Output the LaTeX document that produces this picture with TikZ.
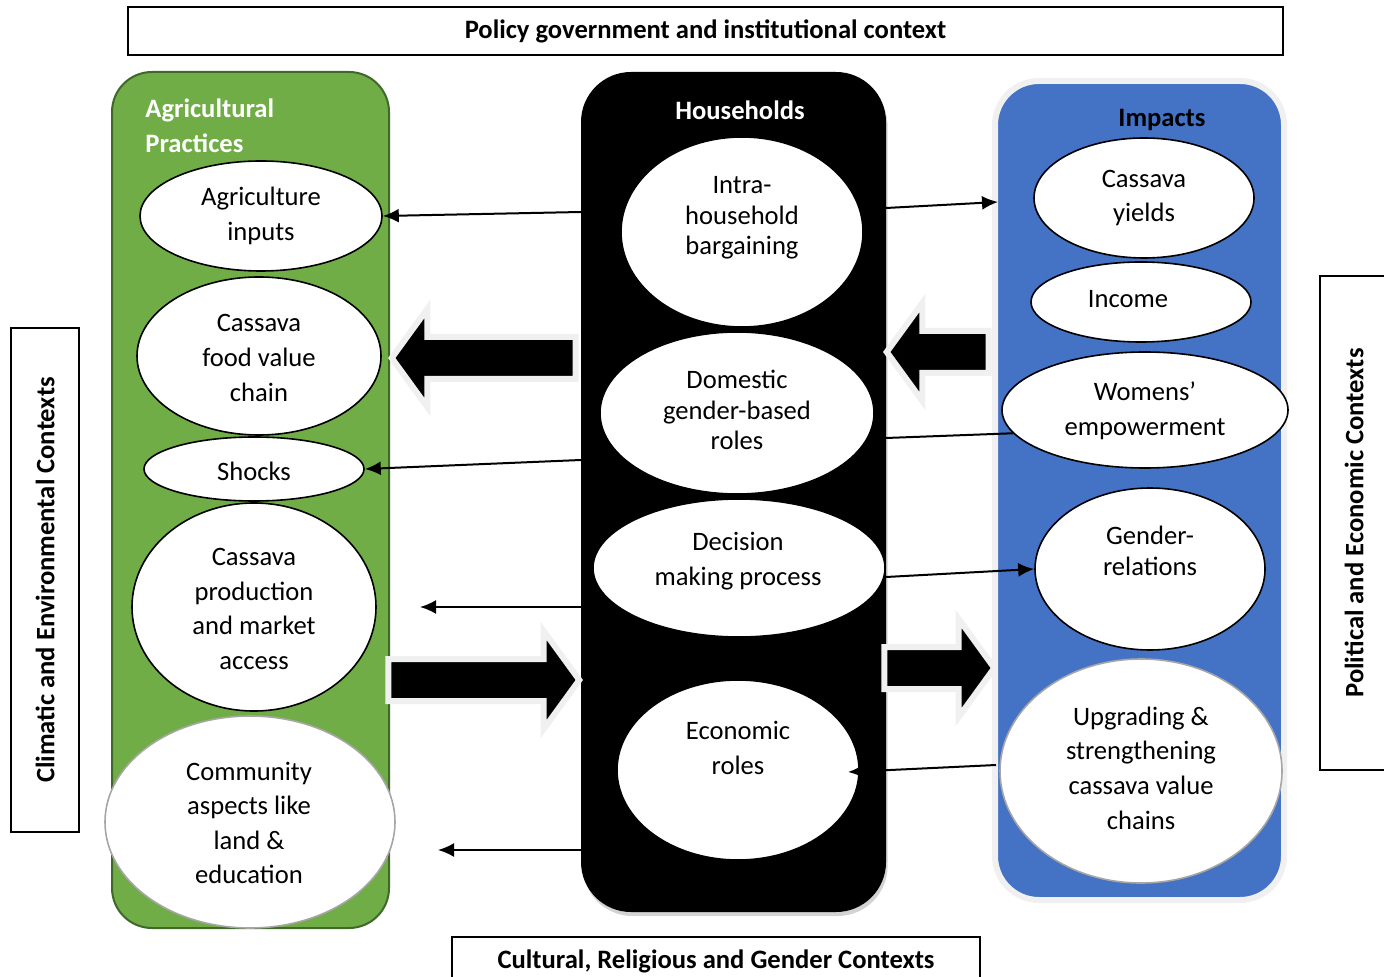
\documentclass[tikz,border=0pt]{standalone}
\usepackage{fontspec}
\setmainfont{Carlito}
\usetikzlibrary{shapes.geometric,shapes.arrows,arrows.meta,shadows}

\definecolor{farmgreen}{HTML}{70AD47}
\definecolor{farmedge}{HTML}{41682B}
\definecolor{impactblue}{HTML}{4472C4}

\tikzset{
  ctx/.style={draw, line width=1pt, font=\bfseries, inner sep=0pt},
  panel/.style={inner sep=0pt},
  oval/.style={ellipse, draw, fill=white, line width=0.8pt, inner sep=0pt},
  txt/.style={align=center, inner sep=0pt},
  tight/.style={txt, font=\fontsize{13.3}{15.2}\selectfont},
  link/.style={-{Latex[length=8pt,width=7pt]}, line width=1pt},
  bigarrow/.style={single arrow, fill=black, draw=gray!12, line width=3pt,
    inner xsep=0pt, inner ysep=9pt, single arrow head extend=14pt,
    single arrow tip angle=108, anchor=tip}
}

\begin{document}
\fontsize{13.3}{17.3}\selectfont
\begin{tikzpicture}[x=0.5pt, y=-0.5pt]
  \useasboundingbox (0,0) rectangle (1384,977);
  \clip (0,0) rectangle (1384,977);

  % contexts round the frame
  \node[ctx, minimum width=577.5pt, minimum height=24pt] (policy) at (705.5,31)
    {Policy government and institutional context};
  \node[ctx, minimum width=264pt, minimum height=24pt] (culture) at (716,961)
    {Cultural, Religious and Gender Contexts};
  \node[ctx, rotate=90, minimum width=252pt, minimum height=34pt] (climate) at (45,580)
    {Climatic and Environmental Contexts};
  \node[ctx, rotate=90, minimum width=247pt, minimum height=34pt] (political) at (1354,523)
    {Political and Economic Contexts};

  % the three columns
  \node[panel, fill=farmgreen, draw=farmedge, line width=1pt, rounded corners=20pt,
    minimum width=138.5pt, minimum height=428pt] (farm) at (250.5,500) {};
  \node[panel, fill=black, rounded corners=25pt, minimum width=152.5pt, minimum height=420pt,
    drop shadow={shadow xshift=0.8pt, shadow yshift=-2pt, opacity=.35}] (hh) at (733.5,492) {};
  \node[panel, fill=impactblue, draw=gray!12, line width=3pt, rounded corners=22pt,
    minimum width=144.5pt, minimum height=409.5pt] (impact) at (1139.5,490.5) {};

  \node[txt, anchor=west, align=left, text=white, font=\bfseries] (farmT) at (145,126)
    {Agricultural\\Practices};
  \node[txt, text=white, font=\bfseries] (hhT) at (740,110) {Households};
  \node[txt, font=\bfseries] (impactT) at (1162,120) {Impacts};

  % agricultural practices
  \node[oval, minimum width=121pt, minimum height=55pt] (inputs) at (261,216) {};
  \node[oval, minimum width=122pt, minimum height=79pt] (foodchain) at (259,356) {};
  \node[oval, minimum width=110pt, minimum height=32pt] (shocks) at (254,469) {};
  \node[oval, minimum width=122pt, minimum height=104pt] (production) at (254,607) {};
  \node[oval, draw=gray!70, minimum width=145pt, minimum height=106pt] (community) at (250,822) {};
  \node[txt] (inputsT) at (261,216) {Agriculture\\inputs};
  \node[txt] (foodchainT) at (259,358) {Cassava\\food value\\chain};
  \node[txt] (shocksT) at (254,471) {Shocks};
  \node[txt] (productionT) at (254,609) {Cassava\\production\\and market\\access};
  \node[txt] (communityT) at (249,823) {Community\\aspects like\\land \&\\education};

  % households
  \node[oval, minimum width=121pt, minimum height=95pt] (bargain) at (742,232) {};
  \node[oval, minimum width=137pt, minimum height=81pt] (domestic) at (737,413) {};
  \node[oval, minimum width=146pt, minimum height=69pt] (decision) at (739,568) {};
  \node[oval, minimum width=121pt, minimum height=90pt] (econ) at (738,770) {};
  \node[tight] (bargainT) at (742,218) {Intra-\\household\\bargaining};
  \node[tight] (domesticT) at (737,410) {Domestic\\gender-based\\roles};
  \node[txt] (decisionT) at (738,561) {Decision\\making process};
  \node[txt] (econT) at (738,748) {Economic\\roles};

  % impacts
  \node[oval, minimum width=110pt, minimum height=60pt] (yields) at (1144,198) {};
  \node[oval, minimum width=110pt, minimum height=40pt] (income) at (1141,302) {};
  \node[oval, minimum width=143pt, minimum height=58pt] (empower) at (1145,410) {};
  \node[oval, minimum width=115pt, minimum height=81pt] (gender) at (1150,569) {};
  \node[oval, draw=gray!70, minimum width=141pt, minimum height=112pt] (upgrade) at (1141,771) {};
  \node[txt] (yieldsT) at (1144,198) {Cassava\\yields};
  \node[txt] (incomeT) at (1128,299) {Income};
  \node[txt] (empowerT) at (1145,411) {Womens’\\empowerment};
  \node[tight] (genderT) at (1150,551) {Gender-\\relations};
  \node[txt] (upgradeT) at (1141,768) {Upgrading \&\\strengthening\\cassava value\\chains};

  % block arrows between the columns
  \node[bigarrow, shape border rotate=180, minimum height=92pt] (backL) at (388,358) {};
  \node[bigarrow, shape border rotate=180, minimum height=51pt] (backR) at (883,352) {};
  \node[bigarrow, minimum height=95.5pt] (fwdL) at (583,680) {};
  \node[bigarrow, minimum height=55pt] (fwdR) at (998,668) {};

  % thin links
  \coordinate (hhA) at (581,212);
  \coordinate (hhB) at (886,208);
  \coordinate (impB) at (998,202);
  \coordinate (hhC) at (581,460);
  \coordinate (hhD) at (886,438);
  \coordinate (hhE) at (886,577);
  \coordinate (hhF) at (581,607);
  \coordinate (freeF) at (420,607);
  \coordinate (upgW) at (996,765);
  \coordinate (econTip) at (848,772);
  \coordinate (hhG) at (581,850);
  \coordinate (freeG) at (438,850);

  \draw[link] (hhA) -- (inputs.east);
  \draw[link] (hhB) -- (impB);
  \draw[link] (hhC) -- (shocks.east);
  \draw[line width=1pt] (empower.190) -- (hhD);
  \draw[link] (hhE) -- (gender.west);
  \draw[link] (hhF) -- (freeF);
  \draw[link] (upgW) -- (econTip);
  \draw[link] (hhG) -- (freeG);
\end{tikzpicture}
\end{document}
